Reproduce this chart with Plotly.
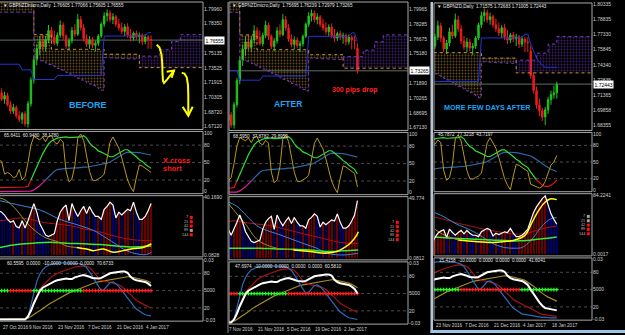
import numpy as np
import plotly.graph_objects as go

W, H = 625, 335
FONT = "Liberation Sans, Arial, sans-serif"
FIRST_BAR = 2  # bar numbering: bar 0 = Mon 24 Oct 2016 (weekdays only)

# ---------------- daily GBPNZD bars 2..64 ----------------
bar_open = [1.7160, 1.7080, 1.7010, 1.7050, 1.6950, 1.6880, 1.6920, 1.6830, 1.6790, 1.6850,
            1.6740, 1.6960, 1.7220, 1.7440, 1.7560, 1.7640, 1.7580, 1.7660, 1.7760, 1.7690,
            1.7620, 1.7710, 1.7820, 1.7700, 1.7590, 1.7650, 1.7760, 1.7720, 1.7880, 1.7790,
            1.7670, 1.7610, 1.7660, 1.7600, 1.7620, 1.7700, 1.7830, 1.7920, 1.7950, 1.7880,
            1.7910, 1.7830, 1.7790, 1.7750, 1.7800, 1.7710, 1.7680, 1.7730, 1.7690, 1.7710,
            1.7640, 1.7690, 1.76605, 1.75695, 1.7330, 1.7180, 1.7040, 1.6980, 1.6920, 1.6990,
            1.7090, 1.7140, 1.71575]
bar_high = [1.7200, 1.7130, 1.7090, 1.7080, 1.6990, 1.6960, 1.6940, 1.6880, 1.6870, 1.6880,
            1.6990, 1.7250, 1.7480, 1.7610, 1.7700, 1.7720, 1.7700, 1.7820, 1.7800, 1.7760,
            1.7740, 1.7870, 1.7850, 1.7720, 1.7680, 1.7800, 1.7830, 1.7940, 1.7920, 1.7830,
            1.7720, 1.7700, 1.7690, 1.7650, 1.7720, 1.7850, 1.7960, 1.7990, 1.7980, 1.7950,
            1.7930, 1.7890, 1.7850, 1.7830, 1.7840, 1.7780, 1.7750, 1.7760, 1.7740, 1.7730,
            1.7720, 1.7710, 1.77066, 1.76239, 1.7360, 1.7220, 1.7100, 1.7010, 1.7020, 1.7120,
            1.7180, 1.7230, 1.72683]
bar_low = [1.7050, 1.6990, 1.6960, 1.6930, 1.6850, 1.6850, 1.6800, 1.6760, 1.6740, 1.6710,
           1.6700, 1.6930, 1.7180, 1.7380, 1.7490, 1.7540, 1.7530, 1.7620, 1.7650, 1.7600,
           1.7590, 1.7680, 1.7660, 1.7560, 1.7540, 1.7620, 1.7690, 1.7700, 1.7760, 1.7640,
           1.7580, 1.7560, 1.7570, 1.7530, 1.7590, 1.7680, 1.7800, 1.7860, 1.7850, 1.7830,
           1.7800, 1.7760, 1.7720, 1.7700, 1.7680, 1.7640, 1.7650, 1.7660, 1.7620, 1.7600,
           1.7610, 1.7560, 1.75605, 1.72979, 1.7150, 1.7000, 1.6930, 1.6880, 1.6840, 1.6950,
           1.7040, 1.7100, 1.71005]
bar_close = [1.7080, 1.7010, 1.7050, 1.6950, 1.6880, 1.6920, 1.6830, 1.6790, 1.6850, 1.6740,
             1.6960, 1.7220, 1.7440, 1.7560, 1.7640, 1.7580, 1.7660, 1.7760, 1.7690, 1.7620,
             1.7710, 1.7820, 1.7700, 1.7590, 1.7650, 1.7760, 1.7720, 1.7880, 1.7790, 1.7670,
             1.7610, 1.7660, 1.7600, 1.7620, 1.7700, 1.7830, 1.7920, 1.7950, 1.7880, 1.7910,
             1.7830, 1.7790, 1.7750, 1.7800, 1.7710, 1.7680, 1.7730, 1.7690, 1.7710, 1.7640,
             1.7690, 1.7660, 1.76555, 1.73265, 1.7180, 1.7040, 1.6980, 1.6920, 1.6990, 1.7090,
             1.7140, 1.7158, 1.72443]

# Ichimoku (already shifted), bars 2..77
senkou_a = [1.8120, 1.8120, 1.8120, 1.8120, 1.8120, 1.8120, 1.8120, 1.8120, 1.8120, 1.8120,
            1.8120, 1.8120, 1.7715, 1.7715, 1.7715, 1.7715, 1.7715, 1.7715, 1.7555, 1.7555,
            1.7555, 1.7555, 1.7555, 1.7555, 1.7555, 1.7555, 1.7555, 1.7555, 1.7555, 1.7555,
            1.7555, 1.7555, 1.7555, 1.7555, 1.7555, 1.7555, 1.7501, 1.7501, 1.7501, 1.7501,
            1.7501, 1.7501, 1.7501, 1.7501, 1.7501, 1.7501, 1.7501, 1.7501, 1.7355, 1.7355,
            1.7355, 1.7355, 1.7355, 1.7355, 1.7355, 1.7355, 1.7355, 1.7355, 1.7355, 1.7355,
            1.7355, 1.7355, 1.7355, 1.7355, 1.7355, 1.7355, 1.7355, 1.7355, 1.7355, 1.7355,
            1.7355, 1.7355, 1.7355, 1.7355, 1.7355, 1.7355]
senkou_b = [1.7960, 1.7960, 1.7960, 1.7960, 1.7960, 1.7960, 1.7960, 1.7960, 1.7960, 1.7960,
            1.7960, 1.7960, 1.7448, 1.7440, 1.7430, 1.7420, 1.7405, 1.7390, 1.7375, 1.7360,
            1.7345, 1.7330, 1.7315, 1.7300, 1.7285, 1.7269, 1.7250, 1.7235, 1.7220, 1.7205,
            1.7190, 1.7175, 1.7160, 1.7140, 1.7125, 1.7109, 1.7465, 1.7465, 1.7462, 1.7460,
            1.7458, 1.7456, 1.7455, 1.7453, 1.7452, 1.7450, 1.7450, 1.7450, 1.7480, 1.7480,
            1.7480, 1.7480, 1.7480, 1.7480, 1.7480, 1.7550, 1.7550, 1.7550, 1.7550, 1.7640,
            1.7640, 1.7640, 1.7715, 1.7715, 1.7715, 1.7715, 1.7715, 1.7715, 1.7715, 1.7715,
            1.7715, 1.7715, 1.7715, 1.7715, 1.7715, 1.7715]
kijun = [1.7392, 1.7392, 1.7392, 1.7392, 1.7392, 1.7392, 1.7392, 1.7392, 1.7330, 1.7330,
         1.7330, 1.7330, 1.7225, 1.7225, 1.7225, 1.7225, 1.7225, 1.7225, 1.7225, 1.7225,
         1.7270, 1.7270, 1.7270, 1.7270, 1.7270, 1.7270, 1.7270, 1.7270, 1.7270, 1.7270,
         1.7270, 1.7270, 1.7270, 1.7270, 1.7270, 1.7270, 1.7700, 1.7700, 1.7700, 1.7700,
         1.7700, 1.7700, 1.7700, 1.7700, 1.7700, 1.7700, 1.7700, 1.7700, 1.7700, 1.7700,
         1.7700, 1.7737, 1.7737, 1.7640, 1.7570, 1.7500, 1.7460, 1.7430, 1.7410, 1.7410,
         1.7410, 1.7410, 1.7410]

# stochastic-type pane, bars 2..64
stoch_fast = [54, 52, 30, 33, 30, 24, 26, 38, 20, 26,
              50, 80, 95, 92, 89, 94, 86, 95, 97, 85,
              82, 90, 85, 35, 17, 22, 45, 92, 99, 88,
              60, 35, 20, 19, 22, 25, 30, 55, 85, 94,
              84, 75, 58, 38, 20, 8, 0, 25, 46, 44,
              40, 36, 33, 10, 8, 5, 3, 6, 15, 30,
              45, 50, 62]
stoch_mid = [7, 7, 7, 7, 7, 7, 7, 7, 8, 8,
             9, 20, 32, 44, 56, 65, 74, 82, 87, 90,
             92, 93, 94, 94, 93, 93, 93, 93, 94, 96,
             92, 84, 78, 75, 70, 68, 65, 63, 60, 60,
             63, 67, 70, 72, 72, 68, 65, 60, 55, 52,
             47, 43, 40, 32, 25, 18, 12, 8, 6, 6,
             8, 12, 18]
stoch_slow = [0, 0, 0, 0, 0, 0, 0, 0, 0, 0,
              0, 1, 3, 6, 10, 15, 20, 25, 30, 35,
              38, 39, 40, 40, 40, 41, 41, 41, 42, 42,
              42, 43, 43, 44, 45, 46, 47, 49, 51, 54,
              57, 61, 64, 66, 68, 68, 68, 68, 67, 66,
              65, 64, 63, 61, 58, 55, 51, 47, 43, 40,
              37, 35, 33]

# bottom oscillator pane, bars 2..64
osc_white = [0, 0, 0, 0, 0, 0, 0, 0, 0, 0,
             5, 15, 28, 40, 49, 55, 58, 61, 63, 66,
             68, 69, 70, 71, 70, 70, 73, 75, 76, 77,
             76, 74, 72, 71, 71, 72, 75, 78, 80, 81,
             82, 82, 83, 83, 81, 74, 70, 68, 67, 66,
             65, 62, 58, 50, 42, 36, 28, 22, 18, 17,
             16, 15, 14]
osc_blue = [0, 0, 0, 0, 0, 0, 0, 0, 0, 0,
            5, 25, 50, 66, 78, 86, 91, 94, 96, 97,
            98, 98, 98, 98, 98, 98, 97, 97, 96, 94,
            90, 83, 75, 66, 57, 50, 52, 58, 64, 65,
            62, 57, 50, 43, 36, 29, 24, 18, 14, 11,
            8, 7, 6, 5, 4, 3, 3, 2, 2, 1,
            1, 1, 1]
osc_red = [0, 0, 0, 0, 0, 0, 0, 0, 0, 0,
           5, 15, 30, 42, 52, 58, 64, 70, 74, 77,
           80, 82, 84, 86, 88, 90, 91, 92, 93, 93,
           92, 90, 85, 78, 72, 68, 66, 65, 64, 63,
           62, 60, 57, 53, 48, 43, 38, 33, 30, 27,
           24, 22, 20, 17, 14, 11, 9, 7, 6, 5,
           5, 4, 4]
osc_olive = [1, 1, 1, 1, 1, 1, 1, 1, 1, 1,
             2, 5, 9, 12, 15, 19, 22, 26, 29, 32,
             35, 38, 41, 44, 46, 48, 50, 52, 55, 57,
             59, 61, 62, 64, 65, 66, 67, 68, 69, 70,
             71, 72, 73, 74, 74, 74, 73, 72, 71, 70,
             68, 66, 63, 60, 56, 51, 47, 43, 40, 37,
             35, 32, 30]
# 1 = green dot, 0 = red dot on the 50 line
osc_state_early = [1, 1, 1, 1, 0, 0, 0, 0, 0, 0,
                   0, 0, 1, 1, 1, 1, 1, 1, 1, 1,
                   1, 1, 1, 1, 1, 1, 1, 1, 1, 0,
                   0, 0, 0, 0, 0, 0, 0, 0, 0, 0,
                   0, 0, 0, 0, 0, 0, 0, 0, 0, 0,
                   0, 0, 0, 0, 0, 0, 0, 0, 0, 0,
                   0, 0, 0]
osc_state_late = [1, 1, 1, 1, 0, 0, 0, 0, 0, 0,
                  0, 0, 1, 1, 1, 1, 1, 1, 1, 1,
                  1, 1, 1, 1, 1, 1, 1, 1, 1, 0,
                  0, 0, 0, 0, 0, 0, 0, 0, 0, 0,
                  0, 0, 0, 0, 0, 0, 0, 0, 0, 0,
                  1, 1, 1, 1, 1, 1, 1, 1, 1, 1,
                  1, 1, 1]

# histogram pane white line, bars 2..64
hist_white = [31, 30, 28, 25, 23, 24, 20, 19, 24, 19,
              24, 30, 36, 30, 22, 18, 14, 13, 14, 15,
              24, 30, 33, 35, 24, 36, 31, 27, 31, 34,
              29, 34, 30, 27, 27, 25, 32, 34, 37, 35,
              26, 30, 28, 30, 32, 31, 37, 30, 25, 25,
              27, 31, 36, 48, 60, 68, 75, 80, 84, 70,
              58, 50, 43]

# histogram pane moving-average lines per screenshot (bar, value)
h1_red = [(2.4, 23.9), (5.8, 25), (9.3, 26), (12.7, 25), (17.2, 22.8), (21.8, 21.7), (26.3, 20.6),
          (30.8, 18.4), (36.5, 16.2), (42.2, 12.9), (47.9, 10.7), (54.1, 10)]
h1_green = [(2.4, 5.3), (8.1, 7.4), (13.8, 8.3), (19.5, 9), (25.2, 8.3), (30.8, 7.9), (36.5, 7.4),
            (42.2, 6.3), (47.9, 5.7), (54.1, 6.3)]
h1_blue = [(2.4, 38), (9.3, 34.8), (16.1, 31.5), (22.9, 25), (29.7, 20.6), (34.3, 17.3), (38.8, 11.8),
           (42.2, 7.4), (45.6, 3), (49, 0.9), (52.4, 0.3), (54.1, 2)]
h1_olive = [(2.4, 40), (4.7, 38), (8.1, 31.5), (11.5, 22.8), (14.9, 16.2), (18.3, 11.8), (21.8, 9.6),
            (25.2, 6.3), (28.6, 5.3)]
h1_yellow = [(28.6, 5.3), (32, 4.2), (34.3, 3.1), (37.7, 4.2), (41.1, 2), (44.5, 3.1), (47.9, 4.6),
             (51.3, 5.3), (54.1, 7.9)]

h2_red = [(9.4, 29.9), (11.7, 31.2), (15.2, 29.9), (19.9, 28.5), (24.5, 27.2), (29.2, 24.5), (33.8, 21.7),
          (38.5, 19), (43.1, 16.3), (47.8, 13.6), (52.4, 12.2), (55.3, 12.2)]
h2_green = [(9.4, 8.2), (15.2, 8.2), (21, 8.2), (26.9, 7.6), (32.7, 7.3), (38.5, 6.8), (44.3, 5.4),
            (50.1, 6), (55.3, 6.8)]
h2_blue = [(9.4, 47.5), (12.9, 43.5), (16.4, 35.3), (19.9, 27.2), (23.4, 23.1), (26.9, 20.4), (31.5, 16.3),
           (36.1, 12.2), (40.8, 8.2), (44.3, 4.1), (47.8, 2.7), (51.3, 2.7), (55.3, 4.1)]
h2_olive = [(9.4, 47.5), (11.7, 40.8), (14, 34), (16.4, 27.2), (18.7, 19), (21, 13.6), (23.4, 10.9),
            (26.9, 8.2), (32.7, 6.8)]
h2_yellow = [(32.7, 6.8), (38.5, 5.4), (44.3, 4.1), (47.8, 5.4), (50.1, 8.2), (52.4, 12.2), (54.7, 19),
             (55.3, 22)]

h3_red = [(22, 53), (25.4, 49.6), (30, 44.3), (34.6, 39.9), (39.2, 35.5), (43.8, 32), (48.4, 29),
          (53, 29), (56.5, 33.3), (60, 37.7), (64, 40)]
h3_green = [(22, 24.6), (30, 22.4), (41.5, 20.2), (50.7, 18.9), (55.3, 20.2), (60, 22.4), (64, 24.6)]
h3_blue = [(22, 59.7), (25.4, 53), (28.9, 44.3), (32.3, 38.2), (35.8, 31.1), (39.2, 22.4), (42.7, 13.6),
           (46.1, 9.2), (49.6, 8.3), (51.9, 9.2), (54.2, 15.8), (56.5, 26.8), (58.8, 39.9), (61.1, 48.7),
           (62.8, 52.2), (64, 52.2)]
h3_olive = [(22, 35.5), (25.4, 26.8), (30, 20.2)]
h3_yellow = [(30, 20.2), (35.8, 18), (41.5, 16.7), (46.1, 18), (49.6, 20.2), (53, 26.8), (55.3, 44.3),
             (57.6, 61.9), (60, 75), (61.7, 79.4), (64, 78.5)]

# texts
titles = ["\u25bc GBPNZDmicro,Daily  1.76605 1.77066 1.75605 1.76555",
          "\u25bc GBPNZDmicro,Daily  1.75695 1.76239 1.72979 1.73265",
          "\u25bc GBPNZD,Daily  1.71575 1.72683 1.71005 1.72443"]
price_labels = [["1.79960", "1.78350", "1.75135", "1.73525", "1.71915", "1.70305", "1.68720", "1.67120"],
                ["1.79965", "1.78285", "1.76675", "1.75180", "1.71890", "1.70265", "1.68695", "1.67130"],
                ["1.80335", "1.78835", "1.77330", "1.75845", "1.74340", "1.72835", "1.71365", "1.69858", "1.68355"]]
stoch_heads = ["65.6411  60.9480  38.1780", "68.5950  37.8782  29.8959", "45.7872  77.3218  43.7197"]
osc_heads = ["60.5595  0.0000  -10.0000  0.0000  0.0000  70.6733",
             "47.6974  -10.0000  0.0000  0.0000  0.0000  60.5810",
             "15.4158  -10.0000  0.0000  0.0000  0.0000  41.6041"]
hist_top_labels = ["40.1690", "49.774", "84.2241"]
hist_bot_labels = ["0.0828", "0.0812", "0.0017"]
ma_periods = ["7", "21", "42", "89", "144"]
ma_states = [[1, 1, 1, 0, 1], [1, 1, 1, 1, 1], [0, 0, 1, 1, 1]]
date_tick_bars = [[3, 12, 22, 32, 42, 52], [10, 20, 30, 40, 50], [22, 32, 42, 52, 62]]
date_tick_text = [["27 Oct 2016", "9 Nov 2016", "23 Nov 2016", "7 Dec 2016", "21 Dec 2016", "4 Jan 2017"],
                  ["7 Nov 2016", "21 Nov 2016", "5 Dec 2016", "19 Dec 2016", "2 Jan 2017"],
                  ["23 Nov 2016", "7 Dec 2016", "21 Dec 2016", "4 Jan 2017", "18 Jan 2017"]]

n_bars = len(bar_close)
assert all(len(a) == n_bars for a in [bar_open, bar_high, bar_low, kijun, stoch_fast, stoch_mid, stoch_slow,
                                      osc_white, osc_blue, osc_red, osc_olive, osc_state_early, osc_state_late, hist_white])
assert len(senkou_a) == len(senkou_b)
bars = np.arange(FIRST_BAR, FIRST_BAR + n_bars)
cloud_bars = np.arange(FIRST_BAR, FIRST_BAR + len(senkou_a))

# ---------------- layout geometry (pixels) ----------------
PANELS = [
    dict(x0=0, x1=203, price=(0, 129), stoch=(131, 194), hist=(196, 258), osc=(260, 323), date_y=329,
         xmap=(12, 28, 2.93), pmap=(1.7996, 7, 926.8), last=54, title=(2, 4), sh=(3, 135), oh=(6, 265),
         legend=(189, 218), state=osc_state_early),
    dict(x0=229, x1=408, price=(0, 130), stoch=(132, 195), hist=(197, 261), osc=(263, 326), date_y=331,
         xmap=(20, 257, 2.87), pmap=(1.79965, 7, 935), last=55, title=(231, 4), sh=(232, 136), oh=(234, 268),
         legend=(395, 223), state=osc_state_early),
    dict(x0=434, x1=592, price=(1, 130), stoch=(132, 192), hist=(194, 257), osc=(259, 322), date_y=327,
         xmap=(22, 435, 2.9), pmap=(1.7733, 33, 1025), last=64, title=(436, 5), sh=(437, 134), oh=(438, 262),
         legend=(586, 217), state=osc_state_late),
]
HIST_LINES = [(h1_red, h1_green, h1_blue, h1_olive, h1_yellow),
              (h2_red, h2_green, h2_blue, h2_olive, h2_yellow),
              (h3_red, h3_green, h3_blue, h3_olive, h3_yellow)]

G_UP, R_DN = '#1fc41f', '#ee1c1c'
SANDY, PURPLE = '#c8963c', '#7a3ad0'
GRID = '#4a4a4a'
BORDER = '#a8a8a8'
LABEL = '#d0d0d0'
LOW_ZONE = 20  # stochastic lines change colour below this level

fig = go.Figure()
L = dict(width=W, height=H, margin=dict(l=0, r=0, t=0, b=0), paper_bgcolor='black', plot_bgcolor='black',
         showlegend=False, font=dict(family=FONT, color=LABEL), boxgap=0.3)
shapes, annos = [], []
axn = [0]


def X(px):
    return px / W


def Y(py):
    return 1 - py / H


def make_axes(p, pane, yr, tv=None, tt=None):
    axn[0] += 1
    s = '' if axn[0] == 1 else str(axn[0])
    bref, xref, ppb = p['xmap']
    xr = [bref + (p['x0'] - xref) / ppb, bref + (p['x1'] - xref) / ppb]
    top, bot = p[pane]
    L['xaxis' + s] = dict(domain=[X(p['x0']), X(p['x1'])], range=xr, anchor='y' + s, visible=False,
                          fixedrange=True, rangeslider=dict(visible=False))
    yd = dict(domain=[Y(bot), Y(top)], range=yr, anchor='x' + s, side='right', showgrid=False,
              zeroline=False, showline=False, ticks='', fixedrange=True,
              tickfont=dict(size=5, color=LABEL, family=FONT))
    if tv is None:
        yd['showticklabels'] = False
    else:
        yd.update(tickmode='array', tickvals=tv, ticktext=tt)
    L['yaxis' + s] = yd
    shapes.append(dict(type='rect', xref='paper', yref='paper', x0=X(p['x0'] - (2 if p['x0'] == 0 else 0)),
                       x1=X(p['x1']), y0=Y(bot), y1=Y(top), line=dict(color=BORDER, width=1), layer='above'))
    return 'x' + s, 'y' + s


def txt(x, y, s, size, color, anchor='left', bold=False):
    annos.append(dict(x=X(x), y=Y(y), xref='paper', yref='paper', text=('<b>%s</b>' % s) if bold else s,
                      showarrow=False, xanchor=anchor, yanchor='middle', borderpad=0,
                      font=dict(size=size, color=color, family=FONT)))


def hline(xa, ya, val, color, dash='dot', width=1):
    shapes.append(dict(type='line', xref=xa + ' domain', yref=ya, x0=0, x1=1, y0=val, y1=val,
                       line=dict(color=color, width=width, dash=dash), layer='below'))


def line(xa, ya, x, y, color, width=1, shape='linear', dash='solid'):
    fig.add_trace(go.Scatter(x=x, y=y, mode='lines', xaxis=xa, yaxis=ya, hoverinfo='skip',
                             line=dict(color=color, width=width, shape=shape, dash=dash)))


def zoned_line(xa, ya, x, y, c_low, c_high, width):
    """Draw a line whose colour depends on whether it is below LOW_ZONE."""
    y = list(y)
    start = 0
    for i in range(1, len(y) + 1):
        if i == len(y) or (y[i] < LOW_ZONE) != (y[start] < LOW_ZONE):
            end = min(i + 1, len(y))
            line(xa, ya, x[start:end], y[start:end], c_low if y[start] < LOW_ZONE else c_high, width)
            start = i


for k, p in enumerate(PANELS):
    n = p['last'] - FIRST_BAR + 1
    b = bars[:n]

    # ---------- price pane ----------
    pref, yref, ppu = p['pmap']
    ptop, pbot = p['price']
    yr = [pref - (pbot - yref) / ppu, pref - (ptop - yref) / ppu]
    tv = [float(t) for t in price_labels[k]]
    xa, ya = make_axes(p, 'price', yr, tv, price_labels[k])
    sa, sb = np.array(senkou_a), np.array(senkou_b)
    top_c = np.maximum(sa, sb)
    line(xa, ya, cloud_bars, sb, 'rgba(0,0,0,0)', 0.1, 'hv')
    fig.add_trace(go.Scatter(x=cloud_bars, y=top_c, mode='lines', xaxis=xa, yaxis=ya, hoverinfo='skip',
                             line=dict(color='rgba(0,0,0,0)', width=0.1, shape='hv'), fill='tonexty',
                             fillcolor='rgba(0,0,0,0)',
                             fillpattern=dict(shape='.', fgcolor=SANDY, bgcolor='rgba(0,0,0,0)', size=3,
                                              solidity=0.3)))
    line(xa, ya, cloud_bars, sa, 'rgba(0,0,0,0)', 0.1, 'hv')
    fig.add_trace(go.Scatter(x=cloud_bars, y=top_c, mode='lines', xaxis=xa, yaxis=ya, hoverinfo='skip',
                             line=dict(color='rgba(0,0,0,0)', width=0.1, shape='hv'), fill='tonexty',
                             fillcolor='rgba(0,0,0,0)',
                             fillpattern=dict(shape='.', fgcolor=PURPLE, bgcolor='rgba(0,0,0,0)', size=3,
                                              solidity=0.3)))
    line(xa, ya, cloud_bars, sa, SANDY, 1, 'hv', 'dot')
    line(xa, ya, cloud_bars, sb, PURPLE, 1, 'hv', 'dot')
    line(xa, ya, b, kijun[:n], '#2434d0', 1)
    hline(xa, ya, bar_close[n - 1], '#5f6f62', 'solid', 1)
    fig.add_trace(go.Candlestick(x=b, open=bar_open[:n], high=bar_high[:n], low=bar_low[:n], close=bar_close[:n],
                                 xaxis=xa, yaxis=ya, hoverinfo='skip', whiskerwidth=0,
                                 increasing=dict(line=dict(color=G_UP, width=1), fillcolor=G_UP),
                                 decreasing=dict(line=dict(color=R_DN, width=1), fillcolor=R_DN)))
    annos.append(dict(x=X(p['x1'] + 1), y=bar_close[n - 1], xref='paper', yref=ya, text='%.5f' % bar_close[n - 1],
                      showarrow=False, xanchor='left', yanchor='middle', bgcolor='white', borderpad=0.5,
                      font=dict(size=5, color='black', family=FONT)))
    txt(p['title'][0], p['title'][1], titles[k], 4.6, '#e6e6e6')

    # ---------- stochastic pane ----------
    xa, ya = make_axes(p, 'stoch', [-3.5, 103.5], [100, 80, 50, 20, 0], ['100', '80', '50', '20', '0'])
    for lv in (80, 50, 20):
        hline(xa, ya, lv, GRID)
    zoned_line(xa, ya, b, stoch_slow[:n], '#e0209a', '#2c66a8', 1.2)
    zoned_line(xa, ya, b, stoch_mid[:n], '#e81818', '#30e030', 1.2)
    line(xa, ya, b, stoch_fast[:n], '#b8981c', 1)
    txt(p['sh'][0], p['sh'][1], stoch_heads[k], 4.6, '#e6e6e6')

    # ---------- histogram pane ----------
    htop, hbot = p['hist']
    tval, bval = float(hist_top_labels[k]), float(hist_bot_labels[k])
    hppu = (hbot - htop - 4) / (tval - bval)
    xa, ya = make_axes(p, 'hist', [bval - 2 / hppu, tval + 2 / hppu], [tval, bval],
                       [hist_top_labels[k], hist_bot_labels[k]])
    hw = np.array(hist_white[:n], dtype=float)
    cols = ['#6a0000' if (i == 0 or hw[i] >= hw[i - 1]) else '#00006a' for i in range(n)]
    fig.add_trace(go.Bar(x=b, y=hw, width=0.3, xaxis=xa, yaxis=ya, hoverinfo='skip',
                         marker=dict(color=cols, line=dict(width=0))))
    red_l, green_l, blue_l, olive_l, yellow_l = HIST_LINES[k]
    for pts, c, wd in [(red_l, '#b01010', 1), (blue_l, '#3a86d8', 1), (green_l, '#30ee30', 1.5),
                       (olive_l, '#a09018', 1), (yellow_l, '#ffff10', 1.5)]:
        xs, ys = zip(*pts)
        line(xa, ya, xs, ys, c, wd, 'spline')
    line(xa, ya, b, hw, '#ffffff', 1.2)
    lx, ly = p['legend']
    for j, per in enumerate(ma_periods):
        yy = ly + j * 4.4
        txt(lx, yy, per, 3.8, '#bbbbbb', 'right')
        shapes.append(dict(type='rect', xref='paper', yref='paper', x0=X(lx + 0.8), x1=X(lx + 3.8),
                           y0=Y(yy + 1.5), y1=Y(yy - 1.5), line=dict(width=0),
                           fillcolor='#ff1010' if ma_states[k][j] else '#a0a0a0'))

    # ---------- oscillator pane ----------
    xa, ya = make_axes(p, 'osc', [-3, 105], [102, 80, 50, 20, -1.5], ['0.03', '80', '5000', '20', '-0.03'])
    for lv in (80, 50, 20):
        hline(xa, ya, lv, GRID)
    line(xa, ya, b, osc_olive[:n], '#a48c22', 1.2)
    line(xa, ya, b, osc_red[:n], '#a81212', 1.2)
    line(xa, ya, b, osc_blue[:n], '#2c6cbc', 1.2)
    st = p['state'][:n]
    fig.add_trace(go.Scatter(x=b, y=[50] * n, mode='markers', xaxis=xa, yaxis=ya, hoverinfo='skip',
                             marker=dict(symbol='cross', size=3.2,
                                         color=['#22ff22' if s else '#ff2020' for s in st], line=dict(width=0))))
    line(xa, ya, b, osc_white[:n], '#ffffff', 2)
    txt(p['oh'][0], p['oh'][1], osc_heads[k], 4.6, '#e6e6e6')

    # ---------- date labels ----------
    bref, xref, ppb = p['xmap']
    for tb, tt in zip(date_tick_bars[k], date_tick_text[k]):
        txt(xref + (tb - bref) * ppb, p['date_y'], tt, 4.6, LABEL)

# ---------- window frame details ----------
shapes.append(dict(type='line', xref='paper', yref='paper', x0=X(228), x1=X(228), y0=Y(0), y1=Y(335),
                   line=dict(color='#8c8c8c', width=1)))
shapes.append(dict(type='rect', xref='paper', yref='paper', x0=X(430.5), x1=X(433), y0=Y(0), y1=Y(335),
                   line=dict(width=0), fillcolor='#b8c4d0'))
shapes.append(dict(type='rect', xref='paper', yref='paper', x0=X(430.5), x1=X(625), y0=Y(332), y1=Y(335),
                   line=dict(width=0), fillcolor='#9cc4e4'))


# ---------- hand-drawn yellow arrows (panel 1) ----------
def path(pts):
    return 'M ' + ' L '.join('%.5f,%.5f' % (X(a), Y(c)) for a, c in pts)


arrow1 = [(156.7, 43.3), (159.5, 46), (161.5, 53), (162.2, 62), (162.5, 72), (163, 80), (164, 82),
          (167, 78.5), (170.5, 74), (174, 69.3)]
arrow1_head = [(166.7, 70.7), (174, 69.3), (171.7, 76.7)]
arrow2 = [(181.7, 71.7), (184.5, 72.5), (186.8, 76.5), (188, 84), (188.3, 95), (188.3, 105), (188.3, 115)]
arrow2_head = [(182.7, 106), (188.3, 115), (192.7, 106)]
for pts in (arrow1, arrow1_head, arrow2, arrow2_head):
    shapes.append(dict(type='path', xref='paper', yref='paper', path=path(pts),
                       line=dict(color='#ffff00', width=2)))

# ---------- chart annotations ----------
txt(88, 104, 'BEFORE', 9, '#1ea4f0', 'center', True)
txt(288, 103, 'AFTER', 8.5, '#1ea4f0', 'center', True)
txt(487, 107, 'MORE FEW DAYS AFTER', 7.2, '#1ea4f0', 'center', True)
txt(355, 89, '300 pips drop', 7, '#ff2626', 'center', True)
txt(162, 160, 'X cross', 7.5, '#ff1a1a', 'left', True)
txt(162, 169, 'short', 7.5, '#ff1a1a', 'left', True)

L['shapes'] = shapes
L['annotations'] = annos
fig.update_layout(**L)
fig.write_html("out.html")
